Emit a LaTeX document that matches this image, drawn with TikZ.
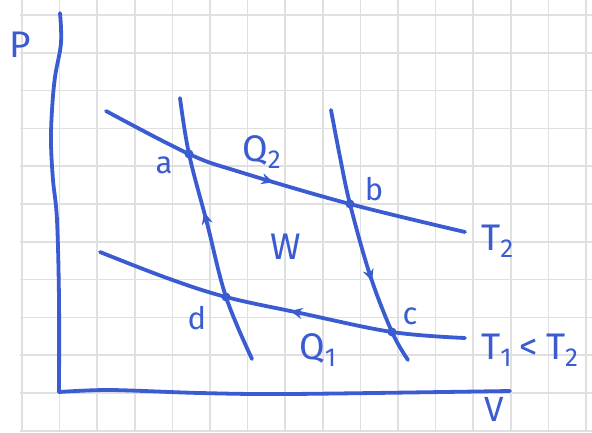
\documentclass[tikz,border=0pt]{standalone}
\usepackage{fontspec}
\setmainfont{Fira Sans}
\usetikzlibrary{arrows.meta,decorations.markings}
\definecolor{ink}{RGB}{58,92,208}
\definecolor{gridc}{RGB}{224,224,224}
\newcommand\lowsub[1]{\raisebox{-0.4ex}{\fontsize{26}{26}\selectfont #1}}
\begin{document}
\begin{tikzpicture}[x=1pt,y=-1pt,
  curve/.style={draw=ink,line width=3.8pt,line cap=round,line join=round},
  lbl/.style={text=ink,inner sep=0pt,font=\fontsize{37}{37}\selectfont},
  small/.style={text=ink,inner sep=0pt,font=\fontsize{31}{31}\selectfont},
  midarrow/.style={postaction={decorate},decoration={markings,mark=at position #1 with {\arrow{Stealth[length=12pt,width=11pt]}}}}
]
\useasboundingbox (0,0) rectangle (592,432);
\fill[white] (0,0) rectangle (592,432);
% grid paper
\foreach \i in {0,...,15} \draw[gridc,line width=1.6pt] ({22+37.6*\i},0) -- ({22+37.6*\i},432);
\foreach \j in {0,...,11} \draw[gridc,line width=1.6pt] (20,{15+37.8*\j}) -- (592,{15+37.8*\j});

% axes
\coordinate (Ptop) at (60,13);
\coordinate (O) at (59,392);
\coordinate (Vend) at (510,391);
\draw[curve] plot[smooth,tension=0.6] coordinates {(Ptop) (61,43) (55,77) (52,110) (51,143) (53,180) (57,220) (59,300) (O)};
\draw[curve] plot[smooth,tension=0.5] coordinates {(O) (110,390) (200,393) (290,394) (Vend)};

% state points
\coordinate (a) at (189,154);
\coordinate (b) at (350,204);
\coordinate (c) at (392,332);
\coordinate (d) at (226,297);
% curve ends
\coordinate (T2s) at (106,111);
\coordinate (T2e) at (465,232);
\coordinate (T1s) at (100,252);
\coordinate (T1e) at (465,338);
\coordinate (A1s) at (180,98);
\coordinate (A1e) at (252,359);
\coordinate (A2s) at (331,110);
\coordinate (A2e) at (408,360);

% isotherms
\draw[curve,midarrow=0.48] plot[smooth,tension=0.6] coordinates {(T2s) (a) (240,172) (b) (T2e)};
\draw[curve,midarrow=0.47] plot[smooth,tension=0.6] coordinates {(T1e) (c) (300,313) (d) (167,278) (T1s)};
% adiabats
\draw[curve,midarrow=0.57] plot[smooth,tension=0.6] coordinates {(A1e) (d) (207,223) (a) (A1s)};
\draw[curve,midarrow=0.67] plot[smooth,tension=0.6] coordinates {(A2s) (340,157) (b) (370,275) (c) (A2e)};

% dots
\foreach \p in {a,b,c,d} \fill[ink] (\p) circle (4.5pt);

% labels
\node[lbl] (lP) at (20,45) {P};
\node[lbl,anchor=base west,font=\fontsize{35}{35}\selectfont] (lV) at (484,421) {V};
\node[small] (la) at (164,165) {a};
\node[small] (lb) at (374,189) {b};
\node[small] (lc) at (410,316) {c};
\node[small] (ld) at (197,318) {d};
\node[lbl,anchor=base west] (lQ2) at (242,161) {Q\lowsub{2}};
\node[lbl,anchor=base west] (lQ1) at (299,359) {Q\lowsub{1}};
\node[lbl] (lW) at (286,247) {W};
\node[lbl,anchor=base west] (lT2) at (481,250) {T\lowsub{2}};
\node[lbl,anchor=base west] (lT1) at (481,359) {T\lowsub{1}\kern8pt<\kern8pt T\lowsub{2}};
\end{tikzpicture}
\end{document}
